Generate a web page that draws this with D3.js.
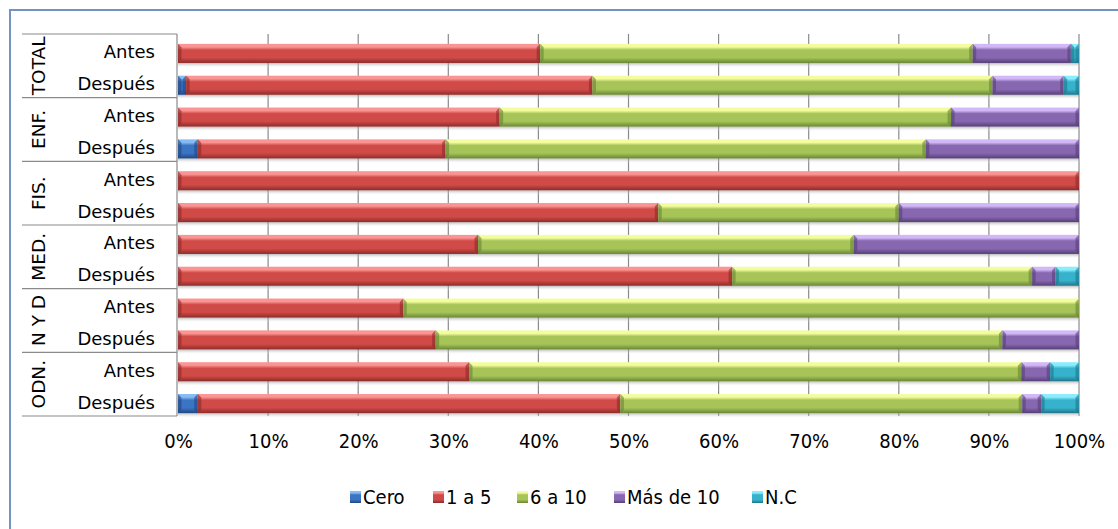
<!DOCTYPE html>
<html>
<head>
<meta charset="utf-8">
<script src="https://cdn.jsdelivr.net/npm/d3@7/dist/d3.min.js"></script>
<style>
  html, body { margin: 0; padding: 0; background: #fff; }
  svg { display: block; }
</style>
</head>
<body>
<svg id="chart" width="1118" height="529"></svg>
<script>
// Groups (outer category) and the two moments compared in each group
const groups = ["TOTAL", "ENF.", "FIS.", "MED.", "N Y D", "ODN."];
const phases = ["Antes", "Después"];

// Series names, shown in the legend
const seriesNames = ["Cero", "1 a 5", "6 a 10", "Más de 10", "N.C"];

// Percentages per row, in row order: TOTAL Antes, TOTAL Después, ENF. Antes, ...
const cero    = [0,    0.9,  0,    2.2,  0,   0,    0,    0,    0,  0,    0,    2.2];
const unoA5   = [40.2, 45.1, 35.7, 27.5, 100, 53.3, 33.3, 61.5, 25, 28.6, 32.3, 46.9];
const seisA10 = [48.0, 44.4, 50.1, 53.3, 0,   26.7, 41.7, 33.3, 75, 62.9, 61.3, 44.6];
const masDe10 = [10.9, 7.9,  14.2, 17.0, 0,   20.0, 25.0, 2.6,  0,  8.5,  3.2,  2.1];
const nc      = [0.9,  1.7,  0,    0,    0,   0,    0,    2.6,  0,  0,    3.2,  4.2];

// Axis tick values and their labels
const tickValues = [0, 10, 20, 30, 40, 50, 60, 70, 80, 90, 100];
const tickLabels = tickValues.map(v => v + "%");

const seriesValues = [cero, unoA5, seisA10, masDe10, nc];

// Bevel colours per series: highlight, body, shade
const palette = [
  { hi: "#86bbf5", mid: "#3b74c2", lo: "#1f4682" },
  { hi: "#fb9593", mid: "#d04a47", lo: "#8c2c2a" },
  { hi: "#f3fd9e", mid: "#a6c458", lo: "#688634" },
  { hi: "#d2b8f7", mid: "#8767b0", lo: "#553f76" },
  { hi: "#8aedfd", mid: "#37b2cc", lo: "#1d768c" }
];

const rows = groups.flatMap(g => phases.map(p => ({ group: g, phase: p, key: g + "|" + p })));

const svg = d3.select("#chart");
const defs = svg.append("defs");

palette.forEach((c, i) => {
  const g = defs.append("linearGradient")
    .attr("id", "grad" + i).attr("x1", 0).attr("y1", 0).attr("x2", 0).attr("y2", 1);
  [[0, c.hi], [0.16, c.hi], [0.32, c.mid], [0.72, c.mid], [1, c.lo]].forEach(([o, col]) =>
    g.append("stop").attr("offset", o).attr("stop-color", col));
});
const sh = defs.append("linearGradient")
  .attr("id", "shadow").attr("x1", 0).attr("y1", 0).attr("x2", 0).attr("y2", 1);
sh.append("stop").attr("offset", 0).attr("stop-color", "#8f8f8f").attr("stop-opacity", 0.6);
sh.append("stop").attr("offset", 1).attr("stop-color", "#ffffff").attr("stop-opacity", 0);

// Chart frame
svg.append("rect")
  .attr("x", 10).attr("y", 10).attr("width", 1130).attr("height", 540)
  .attr("fill", "none").attr("stroke", "#7393c4").attr("stroke-width", 2);

const x = d3.scaleLinear().domain([0, 100]).range([178, 1079]);
const y = d3.scaleBand().domain(rows.map(r => r.key)).range([34, 416]);
const bw = y.bandwidth();
const barTop = k => y(k) + bw * 0.31;
const barH = bw * 0.6;

// Vertical gridlines
svg.append("g").selectAll("line").data(tickValues.slice(1)).join("line")
  .attr("x1", d => x(d)).attr("x2", d => x(d))
  .attr("y1", y.range()[0]).attr("y2", y.range()[1])
  .attr("stroke", "#8a8a8a").attr("stroke-width", 1.2);

// Shadows under the bars
svg.append("g").selectAll("rect").data(rows).join("rect")
  .attr("x", x(0)).attr("width", x(100) - x(0))
  .attr("y", d => barTop(d.key) + barH).attr("height", 5)
  .attr("fill", "url(#shadow)");

// Stacked segments
const stacked = rows.map((r, i) => {
  let acc = 0;
  return seriesValues.map((vals, s) => {
    const seg = { row: r, s, x0: acc, x1: acc + vals[i] };
    acc += vals[i];
    return seg;
  }).filter(d => d.x1 > d.x0);
}).flat();

const seg = svg.append("g").selectAll("g").data(stacked).join("g");
seg.append("rect")
  .attr("x", d => x(d.x0)).attr("width", d => x(d.x1) - x(d.x0))
  .attr("y", d => barTop(d.row.key)).attr("height", barH)
  .attr("fill", d => "url(#grad" + d.s + ")");
// End bevels: darker diagonal facets at both ends of each segment
seg.append("path")
  .attr("d", d => {
    const x0 = x(d.x0), x1 = x(d.x1), t = barTop(d.row.key), b = t + barH;
    const e = Math.min(3.5, (x1 - x0) / 2);
    return `M${x0},${t}L${x0 + e},${t + e}L${x0 + e},${b - e}L${x0},${b}Z` +
           `M${x1},${t}L${x1 - e},${t + e}L${x1 - e},${b - e}L${x1},${b}Z`;
  })
  .attr("fill", d => palette[d.s].lo).attr("opacity", 0.6);

// Category axis: separator lines and vertical axis line
const labelLeft = 22;
svg.append("line")
  .attr("x1", x(0) - 1).attr("x2", x(0) - 1)
  .attr("y1", y.range()[0]).attr("y2", y.range()[1])
  .attr("stroke", "#8a8a8a").attr("stroke-width", 1.2);
const bounds = groups.map(g => y(g + "|" + phases[0])).concat([y.range()[1]]);
svg.append("g").selectAll("line").data(bounds).join("line")
  .attr("x1", labelLeft).attr("x2", x(0) - 1)
  .attr("y1", d => d).attr("y2", d => d)
  .attr("stroke", "#8a8a8a").attr("stroke-width", 1.2);

// Phase labels
svg.append("g").selectAll("text").data(rows).join("text")
  .attr("x", 155).attr("y", d => y(d.key) + bw / 2 + 2)
  .attr("text-anchor", "end").attr("dominant-baseline", "central")
  .attr("font-family", "DejaVu Sans, sans-serif").attr("font-size", 18)
  .attr("fill", "#000").text(d => d.phase);

// Group labels, rotated
svg.append("g").selectAll("text").data(groups).join("text")
  .attr("transform", g => {
    const cy = y(g + "|" + phases[0]) + bw;
    return `translate(45,${cy}) rotate(-90)`;
  })
  .attr("text-anchor", "middle")
  .attr("font-family", "DejaVu Sans, sans-serif").attr("font-size", 18.5)
  .attr("fill", "#000").text(g => g);

// Percentage axis
const xAxis = d3.axisBottom(x).tickValues(tickValues)
  .tickFormat((d, i) => tickLabels[i]).tickSize(0).tickPadding(0);
const ax = svg.append("g").attr("transform", "translate(0,434)").call(xAxis);
ax.select(".domain").remove();
ax.selectAll("text")
  .attr("font-family", "DejaVu Sans Condensed, sans-serif")
  .attr("font-size", 20).attr("fill", "#000").attr("dy", "0.71em");

// Legend
const legendX = [350, 433, 517, 614, 752];
const lg = svg.append("g").selectAll("g").data(seriesNames).join("g")
  .attr("transform", (d, i) => `translate(${legendX[i]},497)`);
lg.append("rect").attr("x", 0).attr("y", -6).attr("width", 11).attr("height", 12)
  .attr("fill", (d, i) => "url(#grad" + i + ")");
lg.append("text").attr("x", 13).attr("y", 0).attr("dominant-baseline", "central")
  .attr("font-family", "DejaVu Sans Condensed, sans-serif")
  .attr("font-size", 20).attr("fill", "#000").text(d => d);
</script>
</body>
</html>
